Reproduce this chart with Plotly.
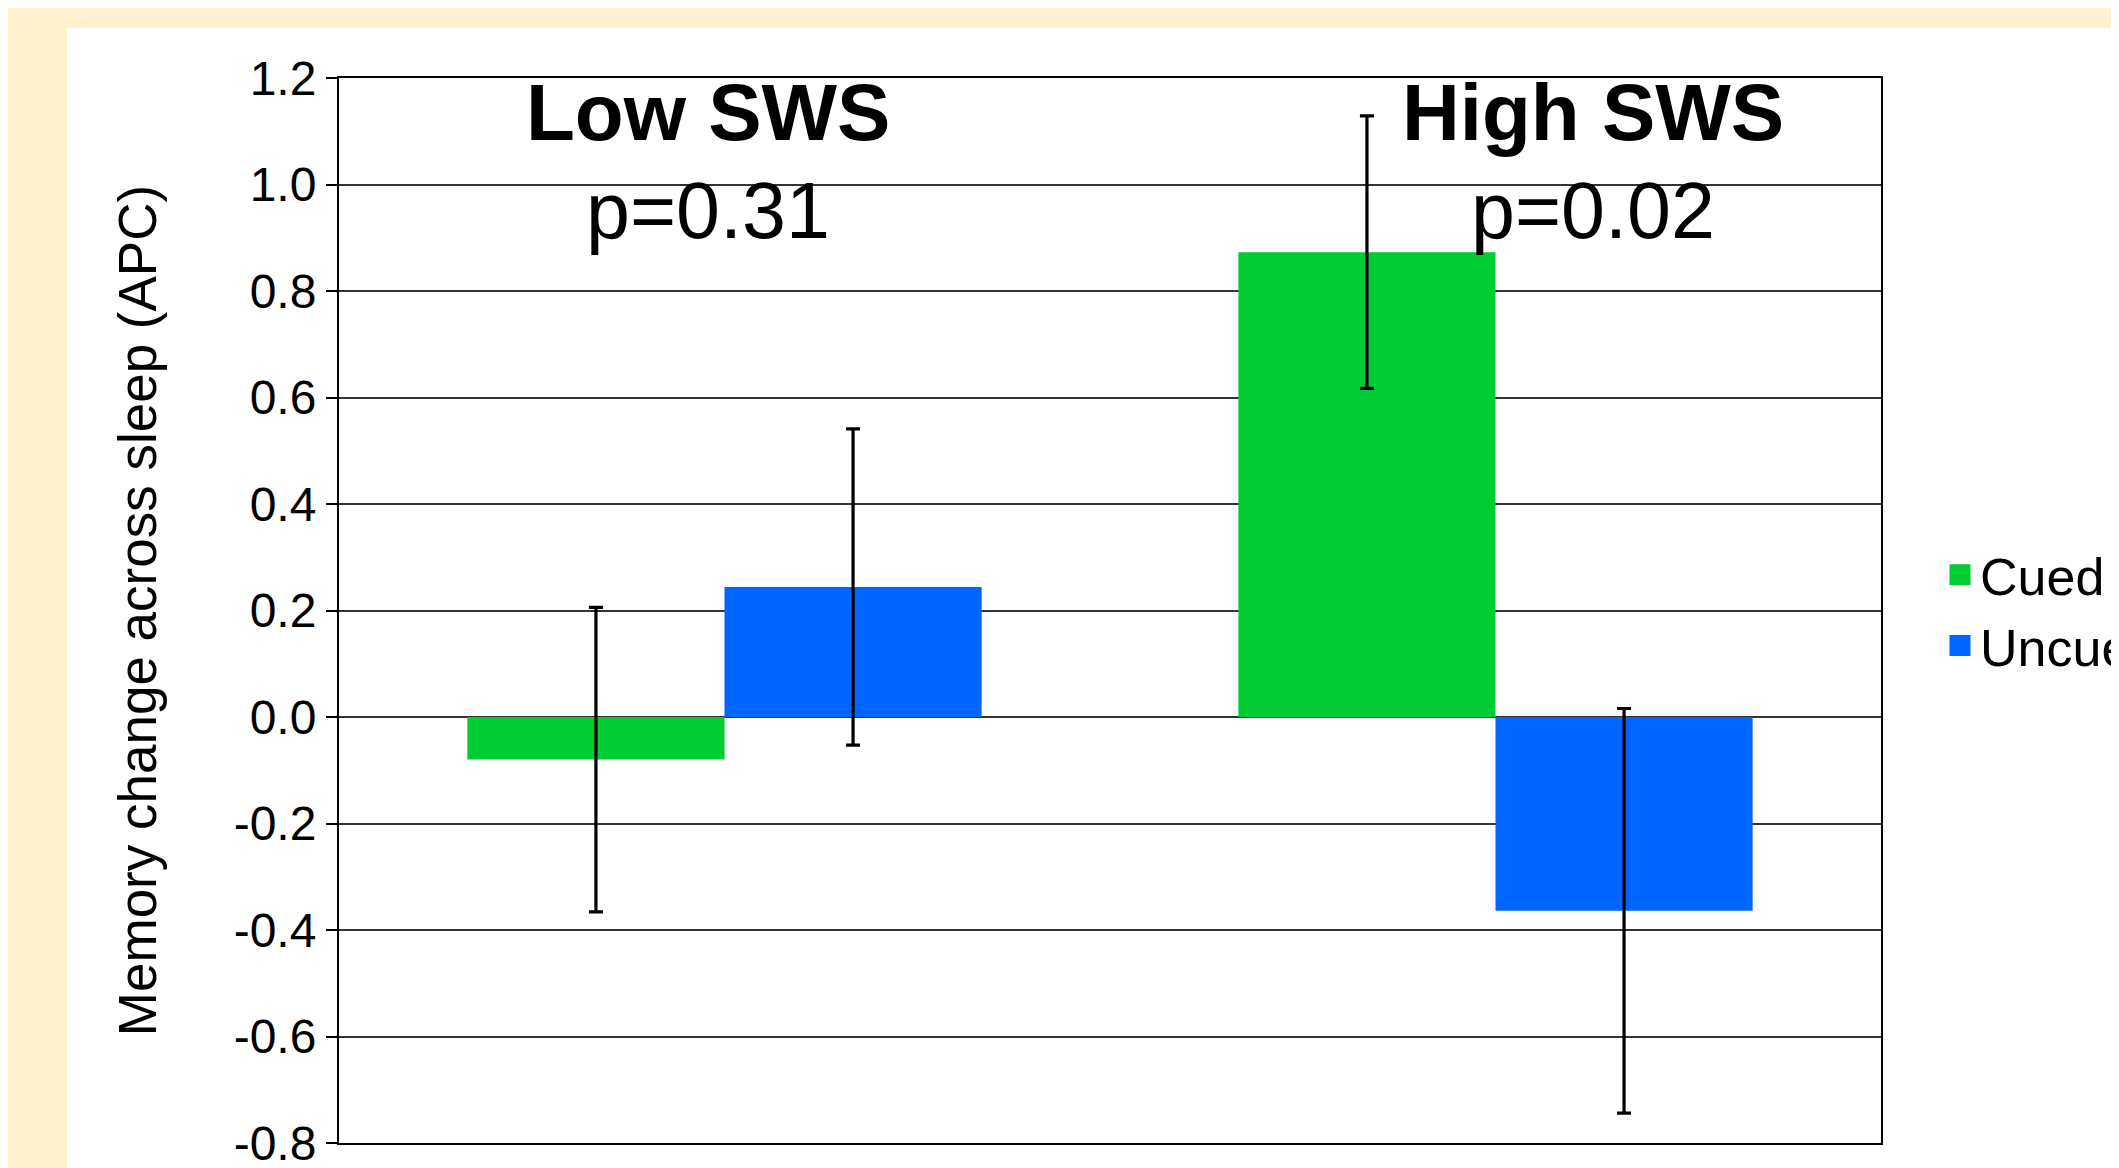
import plotly.graph_objects as go

# ---- data ----
groups = ["Low SWS", "High SWS"]
p_labels = ["p=0.31", "p=0.02"]
series_names = ["Cued", "Uncued"]
cued_vals = [-0.08, 0.873]
cued_err = [0.286, 0.256]
uncued_vals = [0.244, -0.364]
uncued_err = [0.297, 0.380]
y_ticks = [-0.8, -0.6, -0.4, -0.2, 0.0, 0.2, 0.4, 0.6, 0.8, 1.0, 1.2]
y_title = "Memory change across sleep (APC)"

colors = {"Cued": "#00CC33", "Uncued": "#0066FF"}
FONT = "Liberation Sans, Arial, sans-serif"

x_pos = list(range(len(groups)))

fig = go.Figure()
series = [("Cued", cued_vals, cued_err), ("Uncued", uncued_vals, uncued_err)]
for name, vals, errs in series:
    fig.add_trace(go.Bar(
        name=name, x=x_pos, y=vals, showlegend=False, legendgroup=name,
        marker=dict(color=colors[name], line=dict(width=0)),
        error_y=dict(type="data", array=errs, visible=True,
                     color="black", thickness=3.2, width=7),
    ))
# legend keys (square swatches) for the two series
for name, _, _ in series:
    fig.add_trace(go.Scatter(
        name=name, x=[None], y=[None], mode="markers", legendgroup=name,
        marker=dict(symbol="square", size=16, color=colors[name],
                    line=dict(width=5, color=colors[name])),
        hoverinfo="skip",
    ))

W, H = 2119, 1168
L, R, T, B = 331, 246, 70, 33
pw, ph = W - L - R, H - T - B

def px_x(px):
    return (px - L) / pw

def px_y(py):
    return (H - B - py) / ph

shapes = [
    dict(type="rect", xref="paper", yref="paper", layer="below",
         x0=px_x(59), x1=px_x(2200), y0=px_y(1250), y1=px_y(20),
         fillcolor="white", line=dict(width=0)),
]

annotations = []
title_x = [px_x(700), px_x(1585)]
for i, g in enumerate(groups):
    annotations.append(dict(text="<b>%s</b>" % g, xref="paper", yref="paper",
                            x=title_x[i], y=px_y(104), xanchor="center", yanchor="middle",
                            showarrow=False, font=dict(family=FONT, size=80, color="black")))
    annotations.append(dict(text=p_labels[i], xref="paper", yref="paper",
                            x=title_x[i], y=px_y(203), xanchor="center", yanchor="middle",
                            showarrow=False, font=dict(family=FONT, size=79, color="black")))

fig.update_layout(
    width=W, height=H,
    margin=dict(l=L, r=R, t=T, b=B, pad=0, autoexpand=False),
    paper_bgcolor="#FFF2CC",
    plot_bgcolor="white",
    barmode="group",
    bargap=0.333,
    bargroupgap=0,
    font=dict(family=FONT, color="black"),
    showlegend=True,
    legend=dict(x=px_x(1932), y=0.5, xanchor="left", yanchor="middle",
                font=dict(family=FONT, size=52, color="black"),
                bgcolor="rgba(0,0,0,0)", tracegroupgap=0, itemwidth=30),
    shapes=shapes,
    annotations=annotations,
    xaxis=dict(range=[-0.5, 1.5], showticklabels=False, ticks="",
               showgrid=False, zeroline=False, showline=True, automargin=False,
               linecolor="black", linewidth=2, mirror=True, fixedrange=True),
    yaxis=dict(range=[-0.8, 1.2], tickvals=y_ticks,
               ticktext=["%.1f" % v for v in y_ticks],
               ticks="outside", ticklen=11, tickwidth=2, tickcolor="black",
               tickfont=dict(family=FONT, size=48, color="black"),
               showgrid=True, gridcolor="#333333", gridwidth=2, automargin=False,
               zeroline=False, showline=True, linecolor="black", linewidth=2,
               mirror=True,
               title=dict(text=y_title, font=dict(family=FONT, size=53, color="black"),
                          standoff=60)),
)

fig.write_html("out.html")
